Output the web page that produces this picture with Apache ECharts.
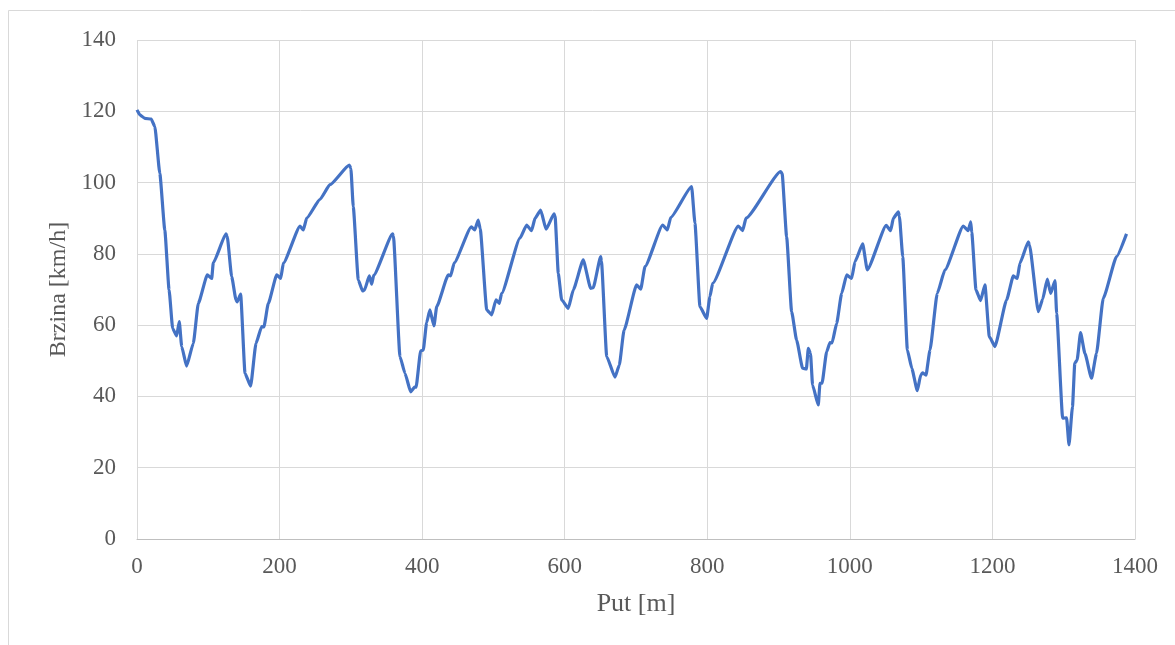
<!DOCTYPE html>
<html>
<head>
<meta charset="utf-8">
<script src="https://cdn.jsdelivr.net/npm/echarts@6/dist/echarts.min.js"></script>
<style>
html,body{margin:0;padding:0;background:#fff;}
#chart{width:1175px;height:645px;}
</style>
</head>
<body>
<div id="chart"></div>
<script>
const xTitle = 'Put [m]';
const yTitle = 'Brzina [km/h]';
const distance = [0,4,11,20,25,32,39,45,50,55.6,59.3,62.7,69.6,79,86,98.6,104.8,107,124.8,126.5,132.8,138.9,140.5,145.4,151.5,159.4,166.9,174.9,178,184.2,196,201.6,205.3,228.7,233.3,238,256.7,270.7,297.8,300,303.4,310.4,316.5,319,325.9,329.2,332,358.6,359.7,368.9,375.9,383.9,389.9,391.5,397.9,401.6,406.3,410.9,416.6,420.4,436.7,439.9,445,469,473.8,478.6,481.5,490.6,497.5,503.6,508.2,511.5,537.2,546.6,553.5,558.4,566.3,573.8,585,586.5,591,595.7,605,612,626,636.4,640,650.4,651.5,658.9,670.5,676.6,683.2,700.9,706.6,712.6,737.4,744,748.7,778,782.7,789.7,799.1,803.7,807.5,843.5,849.6,854.3,902.9,905,911.3,918.3,925.3,933.7,939,941.7,944.8,947.7,955.7,958.1,961,967.4,972.1,975,981.5,988.5,995.5,1002.5,1007.2,1018,1024.4,1051,1057.2,1061,1068,1069.5,1074.2,1080.7,1086.9,1094.6,1099.4,1102,1106.8,1112.4,1122.6,1133.4,1159.1,1166.1,1169.5,1171,1176.9,1183.4,1189.5,1195.6,1203.5,1219.9,1229.3,1234.9,1238.6,1250.3,1252,1264.4,1270.5,1277,1281.7,1287.8,1290.1,1298.5,1304,1307.4,1312.3,1315.5,1318.8,1323.6,1329.7,1339,1346,1355.4,1374.1,1388.1];
const speed = [120.4,119,118,117.8,115.7,102.6,86.7,69.9,59.1,57,61,54,48.5,54.9,66.1,74.1,73.1,77.5,85.6,85,73.6,67.1,66.5,68.7,46.5,42.9,54.9,59.6,59.5,66.1,74.1,73.1,77.4,87.8,86.7,90,95.3,99.4,104.9,104,93.2,72.7,69.6,69.8,73.8,71.5,74,85.6,85,51.2,46.5,41.3,42.7,42.6,52.8,53,60.7,64.3,59.8,65.2,74.1,73.8,77.5,87.6,86.7,89.5,87,64.3,62.9,67.1,66.1,68.9,84.4,88.1,86.5,90,92.3,86.9,91.2,90.5,74.5,67.1,64.7,69.9,78.3,70.3,70.5,79.2,78,51.2,45.4,48.8,58.6,71.3,70.1,76.4,88.1,86.7,90.2,98.9,88.6,65.2,61.9,68,71.7,87.8,86.5,90,103.1,102.5,84.8,63.8,55.8,47.9,47.7,53.5,52,43.2,37.6,43.7,43.7,52.5,55.1,55,60.5,68.9,74.1,73.1,77.8,82.8,75.5,88,86.5,90,91.8,90.5,79.2,53,47.9,41.6,46,46.6,46,53,68.9,75.5,87.8,86.5,89,86,69.9,66.9,71.3,56.8,54,67.1,73.8,73.1,77.4,83.4,82.5,63.8,67.3,72.9,68.9,72.5,63.3,33.9,34,26.4,37.1,49.3,50.2,57.9,52.1,45.1,52.1,67.5,79.2,85.6];

const points = distance.map((d, i) => [d, speed[i]]);
const font = 'Liberation Serif, Times New Roman, serif';
const chart = echarts.init(document.getElementById('chart'), null, {renderer: 'canvas'});
chart.setOption({
  backgroundColor: '#ffffff',
  animation: false,
  graphic: [{
    type: 'rect', silent: true, z: -1,
    shape: {x: 8.5, y: 10.5, width: 1200, height: 700},
    style: {fill: 'none', stroke: '#d9d9d9', lineWidth: 1}
  }],
  grid: {left: 137, right: 40, top: 40, bottom: 106, containLabel: false},
  xAxis: {
    type: 'value', min: 0, max: 1400, interval: 200,
    name: xTitle, nameLocation: 'middle', nameGap: 52,
    nameTextStyle: {fontFamily: font, fontSize: 26, color: '#595959'},
    axisLine: {show: true, lineStyle: {color: '#bfbfbf', width: 1}},
    axisTick: {show: false},
    axisLabel: {fontFamily: font, fontSize: 23, color: '#595959', margin: 16, formatter: v => String(v)},
    splitLine: {show: true, lineStyle: {color: '#d9d9d9', width: 1}}
  },
  yAxis: {
    type: 'value', min: 0, max: 140, interval: 20,
    name: yTitle, nameLocation: 'middle', nameGap: 64, nameRotate: 90,
    nameTextStyle: {fontFamily: font, fontSize: 24, color: '#595959'},
    axisLine: {show: false},
    axisTick: {show: false},
    axisLabel: {fontFamily: font, fontSize: 23, color: '#595959', margin: 21, formatter: v => String(v)},
    splitLine: {show: true, lineStyle: {color: '#d9d9d9', width: 1}}
  },
  series: [{
    type: 'line',
    data: points,
    showSymbol: false,
    smooth: 0.15,
    smoothMonotone: 'x',
    lineStyle: {color: '#4472C4', width: 3.2},
    itemStyle: {color: '#4472C4'}
  }]
});
</script>
</body>
</html>
